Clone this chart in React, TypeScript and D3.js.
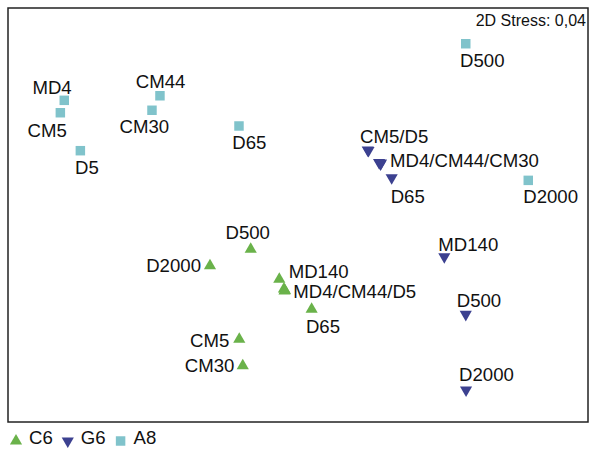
import React, { useEffect, useRef } from "react";
import * as d3 from "d3";

// NMDS ordination, values (arbitrary MDS units)
const seriesNames = ["C6", "G6", "A8"];

const c6Names = ["D500", "D2000", "MD140", "MD4", "CM44", "D5", "D65", "CM5", "CM30"];
const c6X = [-0.326, -0.607, -0.129, -0.097, -0.09, -0.093, 0.094, -0.405, -0.381];
const c6Y = [-0.249, -0.367, -0.466, -0.536, -0.547, -0.551, -0.683, -0.901, -1.092];

const g6Names = ["CM5", "D5", "MD4", "CM44", "CM30", "D65", "MD140", "D500", "D2000"];
const g6X = [0.481, 0.486, 0.559, 0.569, 0.572, 0.646, 1.009, 1.157, 1.159];
const g6Y = [0.471, 0.467, 0.38, 0.37, 0.377, 0.27, -0.302, -0.72, -1.268];

const a8Names = ["MD4", "CM5", "D5", "CM44", "CM30", "D65", "D500", "D2000"];
const a8X = [-1.612, -1.639, -1.501, -0.952, -1.007, -0.407, 1.157, 1.588];
const a8Y = [0.831, 0.741, 0.466, 0.864, 0.759, 0.645, 1.241, 0.251];

// label text, attached to sample
const c6Labels = [
  ["D500", "D500"],
  ["D2000", "D2000"],
  ["MD140", "MD140"],
  ["MD4", "MD4/CM44/D5"],
  ["D65", "D65"],
  ["CM5", "CM5"],
  ["CM30", "CM30"],
];
const g6Labels = [
  ["CM5", "CM5/D5"],
  ["MD4", "MD4/CM44/CM30"],
  ["D65", "D65"],
  ["MD140", "MD140"],
  ["D500", "D500"],
  ["D2000", "D2000"],
];
const a8Labels = [
  ["MD4", "MD4"],
  ["CM5", "CM5"],
  ["D5", "D5"],
  ["CM44", "CM44"],
  ["CM30", "CM30"],
  ["D65", "D65"],
  ["D500", "D500"],
  ["D2000", "D2000"],
];

const stressText = "2D Stress: 0,04";

// label placement (px from the marker: dx, dy to baseline, anchor)
const labelPlace: Record<string, [number, number, string]> = {
  "C6:D500": [-3, -10, "middle"],
  "C6:D2000": [-9, 6.6, "end"],
  "C6:MD140": [9.4, -1, "start"],
  "C6:MD4": [9.3, 9.3, "start"],
  "C6:D65": [-5.7, 24, "start"],
  "C6:CM5": [-10, 7.4, "end"],
  "C6:CM30": [-8.4, 6, "end"],
  "G6:CM5": [-7.7, -7.3, "start"],
  "G6:MD4": [11, 4.2, "start"],
  "G6:D65": [-1, 25.6, "start"],
  "G6:MD140": [-6, -6, "start"],
  "G6:D500": [-9, -7.6, "start"],
  "G6:D2000": [-7, -9, "start"],
  "A8:MD4": [7.4, -6, "end"],
  "A8:CM5": [6.4, 24, "end"],
  "A8:D5": [-5.3, 23.6, "start"],
  "A8:CM44": [0.7, -7.4, "middle"],
  "A8:CM30": [-7.7, 23, "middle"],
  "A8:D65": [-6.7, 23.3, "start"],
  "A8:D500": [-5.7, 23, "start"],
  "A8:D2000": [-5, 23, "start"],
};

const colors: Record<string, string> = { C6: "#6ab24a", G6: "#3c4190", A8: "#80c3cb" };
const font = "Arial, 'Liberation Sans', Helvetica, sans-serif";
const svgW = 590;
const svgH = 450;

const App = () => {
  const svgRef = useRef<SVGSVGElement>(null);

  useEffect(() => {
    const svg = d3.select(svgRef.current);
    svg.selectAll("*").remove();

    const frame = { left: 8, top: 8, right: 588, bottom: 422 };
    const x = d3.scaleLinear().domain([-2, 2]).range([frame.left, frame.right]);
    const y = d3.scaleLinear().domain([-1.5, 1.5]).range([frame.bottom, frame.top]);

    const symbolFor = (s: string) => {
      if (s === "A8") return d3.symbol().type(d3.symbolSquare).size(90)();
      return d3.symbol().type(d3.symbolTriangle).size(64)();
    };
    const rotFor = (s: string) => (s === "G6" ? " rotate(180)" : "");

    svg
      .append("rect")
      .attr("x", frame.left)
      .attr("y", frame.top)
      .attr("width", frame.right - frame.left)
      .attr("height", frame.bottom - frame.top)
      .attr("fill", "none")
      .attr("stroke", "#222")
      .attr("stroke-width", 1.5);

    const series = [
      { key: "C6", names: c6Names, xs: c6X, ys: c6Y, labels: c6Labels },
      { key: "G6", names: g6Names, xs: g6X, ys: g6Y, labels: g6Labels },
      { key: "A8", names: a8Names, xs: a8X, ys: a8Y, labels: a8Labels },
    ];

    series.forEach((s) => {
      const pts = s.names.map((n, i) => ({ name: n, x: s.xs[i], y: s.ys[i] }));
      svg
        .append("g")
        .selectAll("path")
        .data(pts)
        .join("path")
        .attr("d", symbolFor(s.key))
        .attr("transform", (d) => `translate(${x(d.x)},${y(d.y)})${rotFor(s.key)}`)
        .attr("fill", colors[s.key]);

      const g = svg.append("g");
      s.labels.forEach(([at, txt]) => {
        const i = s.names.indexOf(at);
        const [dx, dy, anchor] = labelPlace[`${s.key}:${at}`];
        g.append("text")
          .attr("x", x(s.xs[i]) + dx)
          .attr("y", y(s.ys[i]) + dy)
          .attr("text-anchor", anchor)
          .attr("font-family", font)
          .attr("font-size", 18.6)
          .attr("fill", "#111")
          .text(txt);
      });
    });

    svg
      .append("text")
      .attr("x", frame.right - 2)
      .attr("y", 26)
      .attr("text-anchor", "end")
      .attr("font-family", font)
      .attr("font-size", 16)
      .attr("fill", "#111")
      .text(stressText);

    // legend
    let lx = 16;
    const ly = 441;
    seriesNames.forEach((n) => {
      svg
        .append("path")
        .attr("d", symbolFor(n))
        .attr("transform", `translate(${lx},${ly})${rotFor(n)}`)
        .attr("fill", colors[n]);
      const t = svg
        .append("text")
        .attr("x", lx + 13)
        .attr("y", 444)
        .attr("font-family", font)
        .attr("font-size", 18.6)
        .attr("fill", "#111")
        .text(n);
      const w = (t.node() as SVGTextElement).getComputedTextLength();
      lx = lx + 13 + w + 15;
    });
  }, []);

  return (
    <svg
      ref={svgRef}
      width={svgW}
      height={svgH}
      style={{ position: "absolute", left: 0, top: 0, background: "#fff" }}
    />
  );
};

export default App;
